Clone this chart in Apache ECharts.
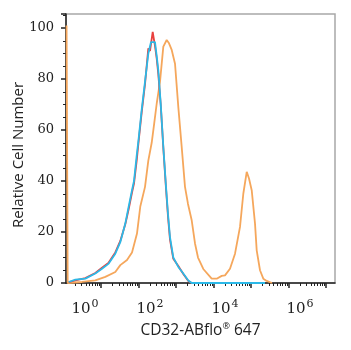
<!DOCTYPE html>
<html>
<head>
<meta charset="utf-8">
<script src="https://cdn.jsdelivr.net/npm/echarts@6/dist/echarts.min.js"></script>
<style>
html,body{margin:0;padding:0;background:#fff;}
#c{width:351px;height:350px;}
</style>
</head>
<body>
<div id="c"></div>
<script>
// x values are log10(fluorescence) positions
const orangeX = [-0.225,-0.195,0.187,0.541,0.808,1.075,1.208,1.387,1.52,1.653,1.741,1.867,1.955,2.045,2.107,2.179,2.267,2.355,2.445,2.507,2.579,2.667,2.755,2.845,2.933,3.013,3.112,3.2,3.28,3.421,3.645,3.779,3.912,4.0,4.133,4.267,4.4,4.488,4.579,4.64,4.712,4.8,4.845,4.933,5.021,5.112,5.253];
const orangeY = [101,0,0.4,1,2.4,4.3,7,9,12,19.4,30,37.7,48,55,62,70.4,79,92.7,95.3,94,91.4,86,69,53.4,37.7,31,24.6,15.5,10,5.5,1.7,1.7,2.8,3,5.6,11.5,22,35,43.6,41,36.4,23.3,12.8,5,1.7,0.8,0];

const redX = [-0.168,0.008,0.275,0.541,0.72,0.899,1.075,1.208,1.341,1.432,1.52,1.573,1.645,1.693,1.779,1.867,1.955,2.0,2.072,2.133,2.179,2.221,2.285,2.355,2.427,2.48,2.533,2.621,2.755,2.888,3.021,3.112,5.067];
const redY = [0.3,1.0,1.9,3.9,6,8,12,16.5,23,29,35.5,39,48,55,67,78,92,91,98.5,93,88,82,70,53,37,26,17,9.5,6.7,3.5,0.8,0,0];

const blueX = [-0.168,0.008,0.275,0.541,0.72,0.899,1.075,1.208,1.341,1.432,1.52,1.573,1.645,1.693,1.779,1.867,1.955,2.027,2.133,2.179,2.221,2.285,2.355,2.427,2.48,2.533,2.621,2.755,2.888,3.021,3.112,5.067];
const blueY = [0.4,1.3,1.7,3.7,5.6,7.6,11.5,16,23.3,30,36.4,40,50,56,68,79,90,94.5,94.5,89,83.5,70.5,53.4,37.7,27,18,10,6.3,3.7,1,0,0];

const xLabelExps = ['0','2','4','6'];
const xLabelAt = [0.267, 2, 4, 6];
const majorTickAt = [0.693,1.693,2.693,3.693,4.693,5.693,6.693];

const xMin = -0.24, xMax = 6.933;
const minorTickAt = [];
majorTickAt.forEach(function(m){
  for (let j = 2; j <= 9; j++) {
    const v = m - 1 + Math.log10(j);
    if (v > xMin && v < xMax) minorTickAt.push(+v.toFixed(4));
  }
});

function zip(xs, ys){ return xs.map(function(x,i){ return [x, ys[i]]; }); }

const chart = echarts.init(document.getElementById('c'), null, {renderer:'canvas'});
chart.setOption({
  backgroundColor: '#fff',
  animation: false,
  grid: { left: 66, right: 16, top: 14, bottom: 67, show: true, borderColor: '#a8a8a8', borderWidth: 1.5 },
  xAxis: [{
    type: 'value', min: xMin, max: xMax,
    name: 'CD32-ABflo{r|®} 647', nameLocation: 'middle', nameGap: 36,
    nameTextStyle: { fontFamily: 'Open Sans', fontSize: 15.5, color: '#222',
      rich: { r: { fontFamily: 'Open Sans', fontSize: 9, color: '#222', padding: [0,0,8,0] } } },
    axisLine: { show: true, onZero: false, lineStyle: { color: '#222', width: 1.5 } },
    axisTick: { show: true, length: 5, customValues: majorTickAt, lineStyle: { color: '#222', width: 1.5 } },
    axisLabel: { show: true, margin: 16, customValues: xLabelAt,
      formatter: function(v){ const i = xLabelAt.indexOf(v); return '{b|10}{s|' + (i >= 0 ? xLabelExps[i] : '') + '}'; },
      rich: {
        b: { fontFamily: 'DejaVu Serif', fontSize: 15, color: '#222' },
        s: { fontFamily: 'DejaVu Serif', fontSize: 11, color: '#222', padding: [0,0,10,1] }
      } },
    splitLine: { show: false }
  },{
    type: 'value', min: xMin, max: xMax, position: 'bottom',
    axisLine: { show: false },
    axisTick: { show: true, length: 3, customValues: minorTickAt, lineStyle: { color: '#222', width: 1 } },
    axisLabel: { show: false },
    splitLine: { show: false }
  }],
  yAxis: {
    type: 'value', min: 0, max: 105.5, interval: 20,
    axisLine: { show: true, onZero: false, lineStyle: { color: '#222', width: 1.5 } },
    axisTick: { show: true, length: 5, lineStyle: { color: '#222', width: 1.5 } },
    minorTick: { show: true, splitNumber: 4, length: 3, lineStyle: { color: '#222', width: 1 } },
    axisLabel: { margin: 12, fontFamily: 'DejaVu Serif', fontSize: 13, color: '#222', showMaxLabel: false },
    splitLine: { show: false }
  },
  graphic: [{
    type: 'text', x: 19, y: 155, rotation: Math.PI/2,
    style: { text: 'Relative Cell Number', fontFamily: 'Open Sans', fontSize: 15, fill: '#222', align: 'center', verticalAlign: 'middle' }
  }],
  series: [
    { type: 'line', xAxisIndex: 0, data: zip(orangeX, orangeY), showSymbol: false, symbol: 'none',
      lineStyle: { color: '#f5a75c', width: 1.8 }, z: 3 },
    { type: 'line', xAxisIndex: 0, data: zip(redX, redY), showSymbol: false, symbol: 'none',
      lineStyle: { color: '#e8403e', width: 1.8 }, z: 4 },
    { type: 'line', xAxisIndex: 0, data: zip(blueX, blueY), showSymbol: false, symbol: 'none',
      lineStyle: { color: '#2bb9e8', width: 1.8 }, z: 5 }
  ]
});
</script>
</body>
</html>
